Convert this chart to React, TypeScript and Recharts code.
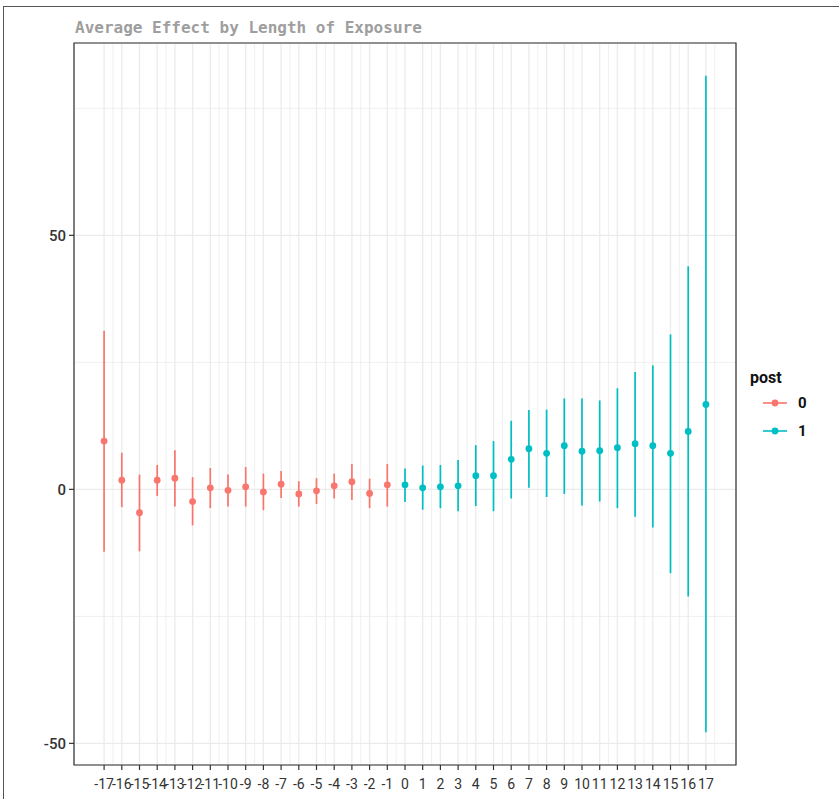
import React from 'react';
import {
  ScatterChart,
  Scatter,
  XAxis,
  YAxis,
  CartesianGrid,
  ErrorBar,
  ReferenceArea,
} from 'recharts';

// event time, pre-period (post = 0)
const xPre = [-17, -16, -15, -14, -13, -12, -11, -10, -9, -8, -7, -6, -5, -4, -3, -2, -1];
const estPre = [9.5, 1.8, -4.6, 1.8, 2.2, -2.4, 0.3, -0.2, 0.5, -0.5, 1.0, -0.9, -0.3, 0.7, 1.5, -0.8, 0.9];
const loPre = [-12.3, -3.5, -12.2, -1.3, -3.4, -7.1, -3.7, -3.4, -3.4, -4.1, -1.7, -3.4, -2.9, -1.8, -2.1, -3.7, -3.4];
const hiPre = [31.2, 7.2, 2.9, 4.8, 7.7, 2.4, 4.2, 2.9, 4.4, 3.1, 3.6, 1.6, 2.2, 3.1, 5.0, 2.1, 5.0];

// post-period (post = 1)
const xPost = [0, 1, 2, 3, 4, 5, 6, 7, 8, 9, 10, 11, 12, 13, 14, 15, 16, 17];
const estPost = [0.9, 0.3, 0.5, 0.7, 2.7, 2.7, 5.9, 8.0, 7.1, 8.6, 7.5, 7.6, 8.2, 9.0, 8.6, 7.1, 11.4, 16.7];
const loPost = [-2.5, -4.0, -3.7, -4.3, -3.3, -4.3, -1.8, 0.3, -1.5, -0.9, -3.2, -2.4, -3.7, -5.4, -7.5, -16.5, -21.1, -47.8];
const hiPost = [4.1, 4.7, 4.8, 5.8, 8.7, 9.5, 13.5, 15.6, 15.7, 17.9, 17.9, 17.5, 19.9, 23.1, 24.4, 30.5, 43.9, 81.4];

const xTicks = [...xPre, ...xPost];
const yTicks = [-50, 0, 50];
const yMinorTicks = [-25, 25, 75];

const RED = '#F8766D';
const TEAL = '#00BFC4';
const GRID = '#EBEBEB';
const TICK_FONT = 'Roboto, sans-serif';

const rows = (xs: number[], est: number[], lo: number[], hi: number[]) =>
  xs.map((x, i) => ({ x, y: est[i], err: [est[i] - lo[i], hi[i] - est[i]] }));

const preData = rows(xPre, estPre, loPre, hiPre);
const postData = rows(xPost, estPost, loPost, hiPost);

// ggplot-like 5% expansion
const allLo = [...loPre, ...loPost];
const allHi = [...hiPre, ...hiPost];
const yLo = Math.min(...allLo);
const yHi = Math.max(...allHi);
const yPad = (yHi - yLo) * 0.05;
const yDomain = [yLo - yPad, yHi + yPad];
const xPad = (xTicks[xTicks.length - 1] - xTicks[0]) * 0.05;
const xDomain = [xTicks[0] - xPad, xTicks[xTicks.length - 1] + xPad];
const xMinorTicks = [...xTicks.map((t) => t - 0.5), xTicks[xTicks.length - 1] + 0.5];

const dot = (color: string) => (p: any) => (
  <circle cx={p.cx} cy={p.cy} r={3.4} fill={color} />
);

const LegendKey = ({ color, label }: { color: string; label: string }) => (
  <div style={{ display: 'flex', alignItems: 'center', height: 28 }}>
    <svg width={26} height={14}>
      <line x1={1} y1={7} x2={25} y2={7} stroke={color} strokeWidth={1.6} />
      <circle cx={13} cy={7} r={3.4} fill={color} />
    </svg>
    <span style={{ marginLeft: 10, fontFamily: TICK_FONT, fontSize: 15, color: '#111', fontWeight: 'bold' }}>
      {label}
    </span>
  </div>
);

export default function App() {
  return (
    <div style={{ position: 'absolute', left: 0, top: 0, width: 839, height: 799, background: '#fff', overflow: 'hidden' }}>
      <div style={{ position: 'absolute', left: 3, top: 6, width: 900, height: 900, borderLeft: '1.5px solid #555', borderTop: '1.5px solid #555' }} />
      <div
        style={{
          position: 'absolute',
          left: 75,
          top: 18,
          fontFamily: '"DejaVu Sans Mono", monospace',
          fontSize: 16,
          fontWeight: 'bold',
          color: '#9E9E9E',
          whiteSpace: 'pre',
        }}
      >
        Average Effect by Length of Exposure
      </div>
      <div style={{ position: 'absolute', left: 762, top: 368 }}>
        <div style={{ fontFamily: TICK_FONT, fontSize: 16, fontWeight: 'bold', color: '#111', marginLeft: -12, marginBottom: 2 }}>
          post
        </div>
        <LegendKey color={RED} label="0" />
        <LegendKey color={TEAL} label="1" />
      </div>
      <div style={{ position: 'absolute', left: 0, top: 0 }}>
        <ScatterChart width={839} height={799} margin={{ top: 43, right: 103, bottom: 0, left: 0 }}>
          <XAxis
            xAxisId="minor"
            type="number"
            dataKey="x"
            domain={xDomain}
            ticks={xMinorTicks}
            allowDataOverflow
            hide
          />
          <YAxis
            yAxisId="minor"
            type="number"
            dataKey="y"
            domain={yDomain}
            ticks={yMinorTicks}
            allowDataOverflow
            hide
            width={74}
          />
          <CartesianGrid xAxisId="minor" yAxisId="minor" stroke={GRID} strokeWidth={0.8} />
          <CartesianGrid stroke={GRID} strokeWidth={1.3} />
          <XAxis
            type="number"
            dataKey="x"
            domain={xDomain}
            ticks={xTicks}
            interval={0}
            allowDataOverflow
            height={34}
            axisLine={false}
            tickLine={{ stroke: '#333', strokeWidth: 1.2 }}
            tickSize={5}
            tickMargin={9}
            tick={{ fill: '#333', fontSize: 14, fontFamily: TICK_FONT }}
          />
          <YAxis
            type="number"
            dataKey="y"
            domain={yDomain}
            ticks={yTicks}
            allowDataOverflow
            width={74}
            axisLine={false}
            tickLine={{ stroke: '#333', strokeWidth: 1.2 }}
            tickSize={5}
            tickMargin={3}
            tick={{ fill: '#333', fontSize: 15, fontWeight: 500, fontFamily: TICK_FONT }}
          />
          <Scatter data={preData} fill={RED} shape={dot(RED)} isAnimationActive={false}>
            <ErrorBar dataKey="err" direction="y" width={0} stroke={RED} strokeWidth={1.7} />
          </Scatter>
          <Scatter data={postData} fill={TEAL} shape={dot(TEAL)} isAnimationActive={false}>
            <ErrorBar dataKey="err" direction="y" width={0} stroke={TEAL} strokeWidth={1.7} />
          </Scatter>
          <ReferenceArea
            x1={xDomain[0]}
            x2={xDomain[1]}
            y1={yDomain[0]}
            y2={yDomain[1]}
            fill="none"
            fillOpacity={0}
            stroke="#333"
            strokeWidth={1.2}
          />
        </ScatterChart>
      </div>
    </div>
  );
}
